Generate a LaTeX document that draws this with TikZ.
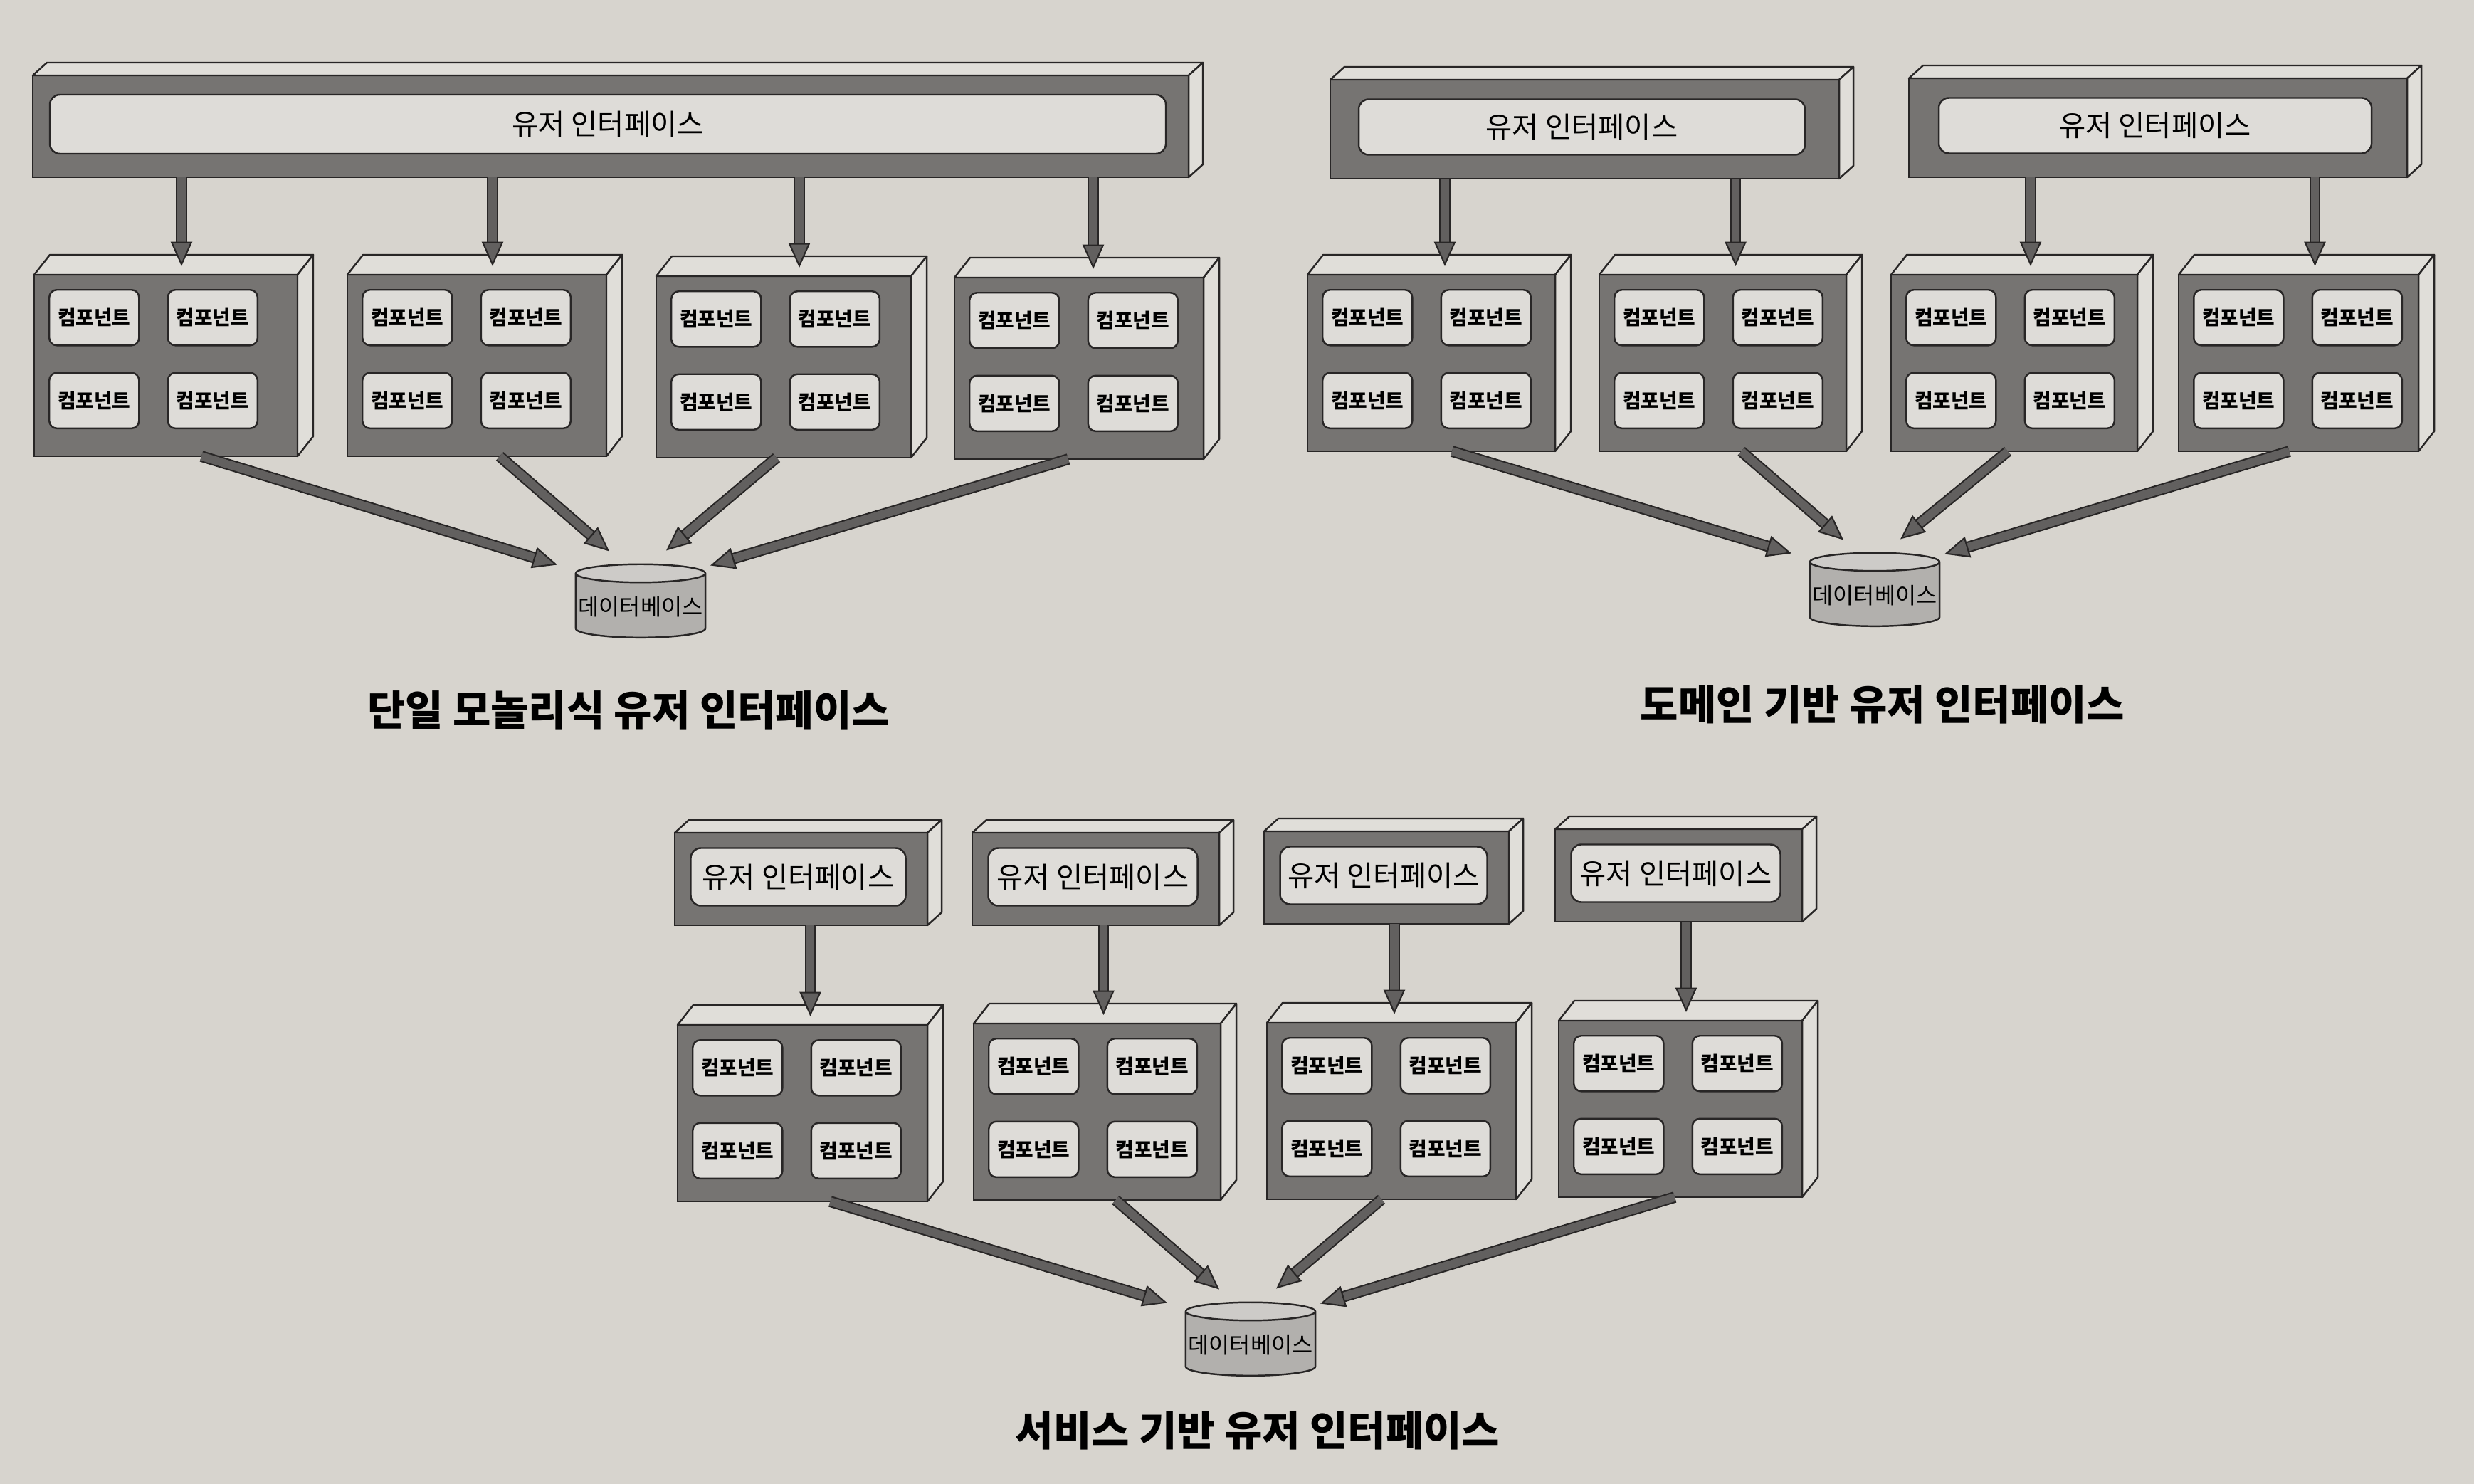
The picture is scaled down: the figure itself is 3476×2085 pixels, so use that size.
\documentclass[tikz,border=0pt]{standalone}
\usepackage{fontspec}
\setmainfont{Noto Sans CJK KR}
\usetikzlibrary{positioning, calc, arrows.meta, shapes.geometric}

\definecolor{paper}{RGB}{215,212,206}
\definecolor{ink}{RGB}{40,38,38}
\definecolor{slabgray}{RGB}{118,116,114}
\definecolor{facegray}{RGB}{224,222,217}
\definecolor{partfill}{RGB}{222,220,216}
\definecolor{arrowgray}{RGB}{98,96,95}
\definecolor{dbbody}{RGB}{178,176,173}
\definecolor{dbend}{RGB}{205,203,200}

\tikzset{
  slab/.style={draw=ink, fill=slabgray, line width=0.7pt, inner sep=0pt, outer sep=0pt, anchor=north west},
  face/.style={draw=ink, fill=facegray, line width=0.7pt, line join=round},
  part/.style={draw=ink, fill=partfill, line width=0.7pt, rounded corners=3pt, inner sep=0pt,
    minimum width=1.26cm, minimum height=0.78cm, font=\fontsize{7.9}{9}\selectfont\bfseries},
  panel/.style={draw=ink, fill=partfill, line width=0.7pt, rounded corners=4pt, inner sep=0pt,
    font=\fontsize{11.5}{13}\selectfont},
  dbase/.style={cylinder, shape border rotate=90, aspect=0.14, draw=ink, line width=0.7pt,
    cylinder uses custom fill, cylinder body fill=dbbody, cylinder end fill=dbend,
    inner sep=1pt, minimum width=1.82cm, minimum height=1.03cm, font=\fontsize{9}{10}\selectfont},
  caption/.style={text=black, font=\fontsize{16.5}{19}\selectfont\bfseries},
  fatshaft/.style={draw=ink, line width=0.6pt, double=arrowgray, double distance=3.3pt, shorten >=7pt},
  fathead/.style={draw=ink, line width=0.6pt, -{Triangle[length=9.8pt, width=8.6pt, fill=arrowgray]}}
}

% 3D slab: name, x, y (front top left, px), width, height, depth x, depth y
\newcommand{\slab}[7]{%
  \node[slab, minimum width=#4*0.01cm, minimum height=#5*0.01cm] (#1) at (#2,#3) {};
  \draw[face] (#1.north west) -- ++(#6,-#7) -- ([shift={(#6,-#7)}]#1.north east) -- (#1.north east) -- cycle;
  \draw[face] (#1.north east) -- ++(#6,-#7) -- ([shift={(#6,-#7)}]#1.south east) -- (#1.south east) -- cycle;
}
% slab holding four components
\newcommand{\compbox}[5]{%
  \slab{#1}{#2}{#3}{#4}{#5}{22}{28}
  \node[part, anchor=north west] (#1-1) at ([shift={(20,20)}]#1.north west) {컴포넌트};
  \node[part, right=0.38cm of #1-1] (#1-2) {컴포넌트};
  \node[part, below=0.36cm of #1-1] (#1-3) {컴포넌트};
  \node[part, below=0.36cm of #1-2] (#1-4) {컴포넌트};
}
% slab holding the user interface panel
\newcommand{\uibox}[7]{%
  \slab{#1}{#2}{#3}{#4}{#5}{20}{18}
  \node[panel, minimum width={(#4-#6)*0.01cm}, minimum height={(#5-#7)*0.01cm}] (#1-in)
    at ([shift={(-4,-3)}]#1.center) {유저 인터페이스};
}
\newcommand{\fatarrow}[2]{%
  \draw[fatshaft] (#1) -- (#2);
  \draw[fathead] ($(#2)!1pt!(#1)$) -- (#2);
}
% ui -> slab, arrow x offset
\newcommand{\feed}[3]{%
  \coordinate (#2-top) at ([shift={(#3,-12)}]#2.north);
  \fatarrow{#2-top |- #1.south}{#2-top}
}

\begin{document}
\begin{tikzpicture}[x=0.01cm, y=-0.01cm]
\useasboundingbox[fill=paper] (0,0) rectangle (3476,2085);

% monolithic
\uibox{mui}{46}{106}{1624}{143}{56}{60}
\compbox{m1}{48}{386}{370}{255}
\compbox{m2}{488}{386}{364}{255}
\compbox{m3}{922}{388}{358}{255}
\compbox{m4}{1341}{390}{350}{255}
\node[dbase] (mdb) at (900,853) {데이터베이스};
\feed{mui}{m1}{22}
\feed{mui}{m2}{22}
\feed{mui}{m3}{22}
\feed{mui}{m4}{20}
\fatarrow{[shift={(50,0)}]m1.south}{[shift={(-117,2)}]mdb.north}
\fatarrow{[shift={(32,0)}]m2.south}{[shift={(-44,-17)}]mdb.north}
\fatarrow{[shift={(-10,0)}]m3.south}{[shift={(36,-18)}]mdb.north}
\fatarrow{[shift={(-15,0)}]m4.south}{[shift={(98,3)}]mdb.north}
\node[caption] (mtitle) at (883,998) {단일 모놀리식 유저 인터페이스};

% domain
\uibox{dui1}{1869}{112}{715}{139}{88}{61}
\uibox{dui2}{2682}{110}{700}{139}{92}{61}
\compbox{d1}{1837}{386}{348}{248}
\compbox{d2}{2247}{386}{347}{248}
\compbox{d3}{2657}{386}{346}{248}
\compbox{d4}{3061}{386}{337}{248}
\node[dbase] (ddb) at (2634,837) {데이터베이스};
\feed{dui1}{d1}{19}
\feed{dui1}{d2}{18}
\feed{dui2}{d3}{23}
\feed{dui2}{d4}{23}
\fatarrow{[shift={(29,0)}]d1.south}{[shift={(-117,2)}]ddb.north}
\fatarrow{[shift={(26,0)}]d2.south}{[shift={(-44,-17)}]ddb.north}
\fatarrow{[shift={(-9,0)}]d3.south}{[shift={(36,-18)}]ddb.north}
\fatarrow{[shift={(-13,0)}]d4.south}{[shift={(98,3)}]ddb.north}
\node[caption] (dtitle) at (2645,990) {도메인 기반 유저 인터페이스};

% service
\uibox{sui1}{948}{1170}{355}{130}{53}{49}
\uibox{sui2}{1366}{1170}{347}{130}{53}{49}
\uibox{sui3}{1776}{1168}{344}{130}{53}{49}
\uibox{sui4}{2185}{1165}{347}{130}{53}{49}
\compbox{s1}{952}{1440}{351}{248}
\compbox{s2}{1368}{1438}{347}{248}
\compbox{s3}{1780}{1437}{350}{248}
\compbox{s4}{2190}{1434}{342}{248}
\node[dbase] (sdb) at (1757,1890) {데이터베이스};
\feed{sui1}{s1}{11}
\feed{sui2}{s2}{9}
\feed{sui3}{s3}{4}
\feed{sui4}{s4}{8}
\fatarrow{[shift={(39,0)}]s1.south}{[shift={(-117,2)}]sdb.north}
\fatarrow{[shift={(26,0)}]s2.south}{[shift={(-44,-17)}]sdb.north}
\fatarrow{[shift={(-14,0)}]s3.south}{[shift={(36,-18)}]sdb.north}
\fatarrow{[shift={(-8,0)}]s4.south}{[shift={(98,3)}]sdb.north}
\node[caption] (stitle) at (1767,2010) {서비스 기반 유저 인터페이스};

\end{tikzpicture}
\end{document}
